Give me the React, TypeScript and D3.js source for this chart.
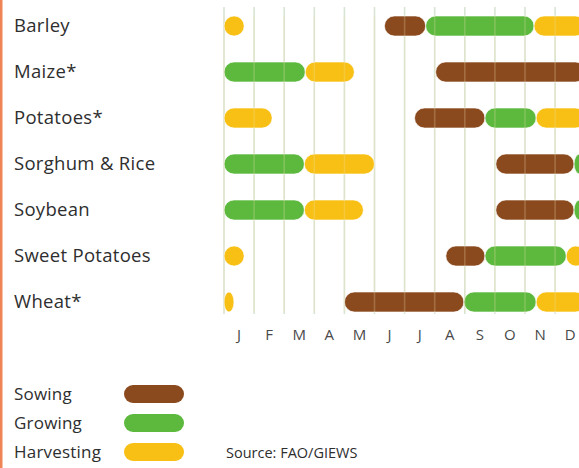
import React from "react";
import * as d3 from "d3";

const crops = ["Barley", "Maize*", "Potatoes*", "Sorghum & Rice", "Soybean", "Sweet Potatoes", "Wheat*"];
const months = ["J", "F", "M", "A", "M", "J", "J", "A", "S", "O", "N", "D"];

// [crop, startMonth, endMonth] (0 = start of January, 12 = end of December)
const sowing: [string, number, number][] = [
  ["Barley", 5.33, 6.7],
  ["Maize*", 7.03, 12],
  ["Potatoes*", 6.33, 8.67],
  ["Sorghum & Rice", 9.03, 11.63],
  ["Soybean", 9.03, 11.63],
  ["Sweet Potatoes", 7.37, 8.67],
  ["Wheat*", 4.0, 7.97],
];
const growing: [string, number, number][] = [
  ["Barley", 6.7, 10.3],
  ["Maize*", 0, 2.7],
  ["Potatoes*", 8.67, 10.37],
  ["Sorghum & Rice", 0, 2.67],
  ["Sorghum & Rice", 11.63, 12],
  ["Soybean", 0, 2.67],
  ["Soybean", 11.63, 12],
  ["Sweet Potatoes", 8.67, 11.37],
  ["Wheat*", 7.97, 10.37],
];
const harvesting: [string, number, number][] = [
  ["Barley", 0, 0.67],
  ["Barley", 10.3, 12],
  ["Maize*", 2.7, 4.33],
  ["Potatoes*", 0, 1.6],
  ["Potatoes*", 10.37, 12],
  ["Sorghum & Rice", 2.67, 5.0],
  ["Soybean", 2.67, 4.63],
  ["Sweet Potatoes", 0, 0.67],
  ["Sweet Potatoes", 11.37, 12],
  ["Wheat*", 0, 0.33],
  ["Wheat*", 10.37, 12],
];
const phases = ["Sowing", "Growing", "Harvesting"];

const W = 579;
const H = 468;
const COLORS: Record<string, string> = { Sowing: "#8a4a1e", Growing: "#5cb93e", Harvesting: "#f8c014" };
const FONT = "'Open Sans', 'Noto Sans', sans-serif";

export default function App() {
  const x = d3.scaleLinear().domain([0, 12]).range([224, 224 + 12 * 30.1]);
  const y = d3.scalePoint<string>().domain(crops).range([26, 302]);
  const barH = 20;
  const series: [string, [string, number, number][]][] = [
    ["Sowing", sowing],
    ["Growing", growing],
    ["Harvesting", harvesting],
  ];
  const grid = d3.range(0, 13);
  const legendY = d3.scalePoint<string>().domain(phases).range([394, 452]);

  const bar = (phase: string, d: [string, number, number], i: number) => {
    const x0 = x(d[1]);
    const w = x(d[2]) - x0;
    const r = Math.min(barH / 2, w / 2);
    return (
      <rect
        key={phase + i}
        x={x0}
        y={(y(d[0]) as number) - barH / 2}
        width={w}
        height={barH}
        rx={r}
        ry={barH / 2}
        fill={COLORS[phase]}
        stroke="#ffffff"
        strokeOpacity={0.6}
        strokeWidth={1}
      />
    );
  };

  return (
    <div style={{ position: "fixed", left: 0, top: 0 }}>
      <svg width={W} height={H} style={{ display: "block", background: "#fff" }}>
        <rect x={0} y={0} width={2.5} height={H} fill="#ef8557" />
        {grid.map((g) => (
          <line key={"g" + g} x1={x(g)} x2={x(g)} y1={7} y2={314} stroke="#d9e5d4" strokeWidth={1.6} />
        ))}
        {series.map(([phase, arr]) => arr.map((d, i) => bar(phase, d, i)))}
        {grid.map((g) => (
          <line key={"go" + g} x1={x(g)} x2={x(g)} y1={16} y2={312} stroke="#f0e0b0" strokeOpacity={0.25} strokeWidth={1.6} />
        ))}
        {crops.map((c) => (
          <text key={c} x={14} y={(y(c) as number) + 6} fontFamily={FONT} fontSize={18.5} letterSpacing={0.3} fill="#2e2e2e">
            {c}
          </text>
        ))}
        {months.map((m, i) => (
          <text key={"m" + i} x={x(i + 0.5)} y={340} textAnchor="middle" fontFamily={FONT} fontSize={15} fill="#4a4a4a">
            {m}
          </text>
        ))}
        {phases.map((p) => (
          <g key={p}>
            <text x={14} y={(legendY(p) as number) + 6} fontFamily={FONT} fontSize={17} letterSpacing={0.2} fill="#2e2e2e">
              {p}
            </text>
            <rect x={124} y={(legendY(p) as number) - 9} width={60} height={18} rx={9} fill={COLORS[p]} />
          </g>
        ))}
        <text x={226} y={458} fontFamily={FONT} fontSize={14.5} fill="#2e2e2e">
          Source: FAO/GIEWS
        </text>
      </svg>
    </div>
  );
}
